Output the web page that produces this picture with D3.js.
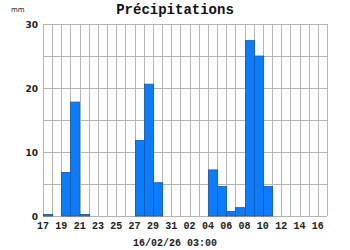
<!DOCTYPE html>
<html lang="fr">
<head>
<meta charset="UTF-8">
<title>Précipitations</title>
<script src="https://d3js.org/d3.v7.min.js"></script>
<style>
  body { margin: 0; background: #fff; }
</style>
</head>
<body>
<svg id="chart" width="350" height="250"></svg>
<script>
// jours (17/01 -> 16/02) et cumuls en mm
const days = ["17","18","19","20","21","22","23","24","25","26","27","28","29","30","31",
              "01","02","03","04","05","06","07","08","09","10","11","12","13","14","15","16"];
const rain = [0.25, 0, 6.8, 17.8, 0.25, 0, 0, 0, 0, 0, 11.8, 20.6, 5.2, 0, 0,
              0, 0, 0, 7.2, 4.6, 0.7, 1.3, 27.4, 25.0, 4.6, 0, 0, 0, 0, 0, 0];
const yTicks = [0, 10, 20, 30];
const yGrid = [0, 5, 10, 15, 20, 25, 30];
const title = "Précipitations";
const unit = "mm";
const stamp = "16/02/26 03:00";

const plotLeft = 43, plotRight = 327, plotTop = 24, plotBottom = 216;
const svg = d3.select("#chart");

const x = d3.scaleBand().domain(d3.range(days.length)).range([plotLeft, plotRight]).paddingInner(0).paddingOuter(0);
const y = d3.scaleLinear().domain([0, 30]).range([plotBottom, plotTop]);

// grille
svg.append("g").selectAll("line").data(yGrid).join("line")
  .attr("x1", plotLeft).attr("x2", plotRight)
  .attr("y1", d => Math.round(y(d)) + 0.5).attr("y2", d => Math.round(y(d)) + 0.5)
  .attr("stroke", "#b4b4b4");

svg.append("g").selectAll("line").data(d3.range(days.length + 1)).join("line")
  .attr("x1", i => Math.round(plotLeft + i * x.step()) + 0.5)
  .attr("x2", i => Math.round(plotLeft + i * x.step()) + 0.5)
  .attr("y1", plotTop).attr("y2", plotBottom)
  .attr("stroke", "#b4b4b4");

// barres
svg.append("g").selectAll("rect").data(rain).join("rect")
  .attr("x", (d, i) => Math.round(x(i)) + 0.5)
  .attr("width", x.bandwidth())
  .attr("y", d => y(d))
  .attr("height", d => plotBottom - y(d))
  .attr("fill", "#0a7cff")
  .attr("stroke", "#1a55a0")
  .attr("stroke-width", 0.8)
  .attr("display", d => d > 0 ? null : "none");

// axe Y
svg.append("g").selectAll("text").data(yTicks).join("text")
  .attr("x", 38).attr("y", d => y(d) + 3.5)
  .attr("text-anchor", "end")
  .attr("font-family", "DejaVu Sans").attr("font-weight", "bold").attr("font-size", 9)
  .attr("fill", "#222")
  .text(d => d);

// axe X : un jour sur deux
svg.append("g").selectAll("text").data(days.filter((d, i) => i % 2 === 0)).join("text")
  .attr("x", (d, i) => plotLeft + i * 2 * x.step())
  .attr("y", 229)
  .attr("text-anchor", "middle")
  .attr("font-family", "Liberation Mono").attr("font-weight", "bold").attr("font-size", 10)
  .attr("fill", "#222")
  .text(d => d);

svg.append("text").attr("x", 175).attr("y", 14)
  .attr("text-anchor", "middle")
  .attr("font-family", "Liberation Mono").attr("font-weight", "bold").attr("font-size", 14)
  .attr("fill", "#111").text(title);

svg.append("text").attr("x", 11).attr("y", 12)
  .attr("font-family", "DejaVu Sans").attr("font-size", 7)
  .attr("fill", "#222").text(unit);

svg.append("text").attr("x", 175).attr("y", 246)
  .attr("text-anchor", "middle")
  .attr("font-family", "Liberation Mono").attr("font-weight", "bold").attr("font-size", 10)
  .attr("fill", "#222").text(stamp);
</script>
</body>
</html>
